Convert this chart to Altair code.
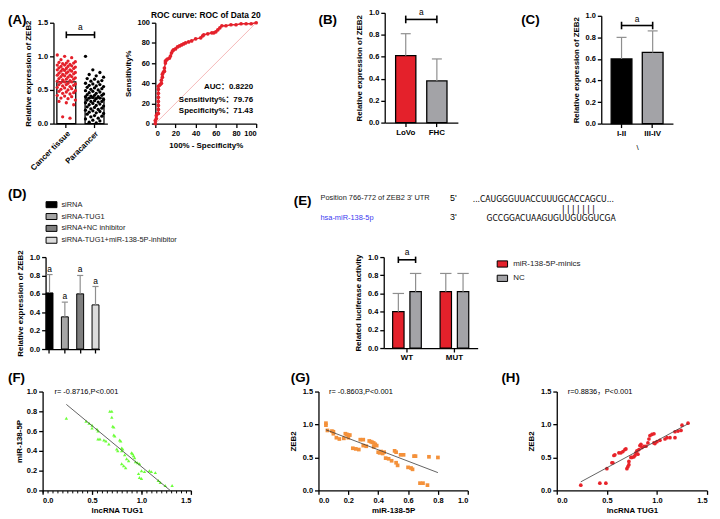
import altair as alt
import pandas as pd

# ---------------- data ----------------
a_cats = ["Cancer tissue", "Paracancer"]
a_means = [0.62, 0.38]
a_cancer = [1.02, 1.00, 0.98, 0.95, 0.93, 0.92, 0.91, 0.90, 0.90, 0.89, 0.88, 0.87, 0.87, 0.86,
            0.85, 0.85, 0.84, 0.83, 0.82, 0.82, 0.81, 0.80, 0.80, 0.79, 0.78, 0.78, 0.77, 0.76,
            0.75, 0.75, 0.74, 0.73, 0.72, 0.72, 0.71, 0.70, 0.70, 0.69, 0.68, 0.67, 0.66, 0.66,
            0.65, 0.64, 0.63, 0.62, 0.62, 0.61, 0.60, 0.59, 0.58, 0.58, 0.57, 0.56, 0.55, 0.54,
            0.53, 0.52, 0.51, 0.50, 0.49, 0.48, 0.47, 0.46, 0.45, 0.44, 0.42, 0.41, 0.40, 0.38,
            0.37, 0.35, 0.33, 0.31, 0.28, 0.10, 0.08]
a_para = [1.00, 0.80, 0.76, 0.73, 0.71, 0.69, 0.67, 0.66, 0.64, 0.63, 0.62, 0.60, 0.59, 0.58,
          0.57, 0.56, 0.55, 0.54, 0.53, 0.52, 0.51, 0.50, 0.49, 0.48, 0.47, 0.46, 0.45, 0.44,
          0.43, 0.42, 0.42, 0.41, 0.40, 0.40, 0.39, 0.38, 0.38, 0.37, 0.36, 0.35, 0.34, 0.33,
          0.33, 0.32, 0.31, 0.30, 0.29, 0.28, 0.27, 0.26, 0.25, 0.24, 0.23, 0.22, 0.21, 0.20,
          0.19, 0.18, 0.17, 0.16, 0.15, 0.14, 0.12, 0.11, 0.10, 0.08, 0.07, 0.05, 0.04, 0.02, 0.01]

roc_fpr = [0, 0, 1, 1, 2, 3, 3, 3, 3, 3, 3, 3, 3, 4, 5, 6, 6, 7, 7, 8, 9, 9, 10, 10, 11, 12, 14, 15,
           16, 17, 18, 20, 22, 24, 26, 28, 30, 33, 36, 40, 45, 47, 48, 52, 56, 58, 60, 62, 64, 66,
           70, 75, 80, 85, 90, 95, 100]
roc_tpr = [0, 3, 5, 8, 10, 10, 14, 18, 22, 26, 30, 34, 37, 38, 39, 40, 43, 46, 49, 51, 52, 55, 60,
           62, 63, 64, 65, 67, 70, 72, 73, 74, 76, 77, 78, 79, 80, 81, 82, 84, 85, 87, 88, 89, 90,
           90, 91, 93, 95, 97, 97, 98, 98, 99, 99, 99, 100]
roc_diag = [0, 100]
roc_text = ["AUC：0.8220", "Sensitivity%：79.76", "Specificity%：71.43"]
roc_text_y = [36, 23.5, 12.7]

b_cats = ["LoVo", "FHC"]
b_mean = [0.61, 0.38]
b_sd = [0.20, 0.20]

c_cats = ["I-II", "III-IV"]
c_mean = [0.60, 0.66]
c_sd = [0.20, 0.20]

d_cats = ["siRNA", "siRNA-TUG1", "siRNA+NC inhibitor", "siRNA-TUG1+miR-138-5P-inhibitor"]
d_mean = [0.61, 0.35, 0.60, 0.48]
d_sd = [0.20, 0.16, 0.20, 0.20]

e_groups = ["WT", "MUT"]
e_series = ["miR-138-5P-minics", "NC"]
e_mimic = [0.40, 0.62]
e_nc = [0.62, 0.62]
e_sd = [0.20, 0.20, 0.20, 0.20]
e_seq_label = "Position 766-772 of ZEB2 3' UTR"
e_mir_label = "hsa-miR-138-5p"
e_seq_top = "...CAUGGGUUACCUUUGCACCAGCU..."
e_pairs = "|||||||"
e_seq_bot = "GCCGGACUAAGUGUUGUGGUCGA"

f_pts = [(0.24, 0.73), (0.44, 0.70), (0.47, 0.68), (0.50, 0.66), (0.50, 0.63), (0.55, 0.62),
         (0.56, 0.60), (0.56, 0.52), (0.58, 0.52), (0.62, 0.51), (0.64, 0.50), (0.67, 0.47),
         (0.68, 0.80), (0.70, 0.80), (0.70, 0.74), (0.71, 0.65), (0.72, 0.64), (0.72, 0.56),
         (0.73, 0.55), (0.75, 0.42), (0.76, 0.40), (0.78, 0.51), (0.79, 0.50), (0.80, 0.43),
         (0.81, 0.42), (0.80, 0.40), (0.80, 0.27), (0.82, 0.25), (0.84, 0.23), (0.83, 0.36),
         (0.85, 0.32), (0.87, 0.30), (0.90, 0.38), (0.91, 0.37), (0.92, 0.35), (0.93, 0.33),
         (0.94, 0.29), (0.96, 0.28), (0.98, 0.27), (0.97, 0.17), (0.98, 0.13), (1.00, 0.12),
         (1.00, 0.20), (1.03, 0.19), (1.08, 0.20), (1.10, 0.19), (1.14, 0.18), (1.17, 0.10),
         (1.19, 0.08), (1.24, 0.05), (1.31, 0.05)]
f_fit = [(0.24, 0.87), (1.29, 0.0)]
f_note = "r= -0.8716,P<0.001"

g_pts = [(0.05, 1.02), (0.05, 0.99), (0.06, 0.91), (0.09, 0.90), (0.10, 0.89), (0.10, 0.86),
         (0.12, 0.80), (0.14, 0.78), (0.17, 0.79), (0.18, 0.86), (0.19, 0.85), (0.20, 0.84),
         (0.21, 0.84), (0.20, 0.80), (0.23, 0.64), (0.25, 0.63), (0.27, 0.62), (0.28, 0.77),
         (0.30, 0.77), (0.30, 0.68), (0.32, 0.67), (0.34, 0.75), (0.35, 0.74), (0.36, 0.73),
         (0.37, 0.72), (0.37, 0.66), (0.38, 0.70), (0.39, 0.68), (0.40, 0.58), (0.41, 0.57),
         (0.42, 0.59), (0.43, 0.56), (0.44, 0.58), (0.45, 0.49), (0.47, 0.48), (0.49, 0.45),
         (0.51, 0.60), (0.52, 0.58), (0.52, 0.42), (0.53, 0.38), (0.55, 0.54), (0.57, 0.54),
         (0.60, 0.35), (0.62, 0.34), (0.63, 0.32), (0.64, 0.52), (0.65, 0.52), (0.68, 0.11),
         (0.70, 0.11), (0.73, 0.08), (0.74, 0.51), (0.80, 0.50)]
g_fit = [(0.05, 0.92), (0.80, 0.27)]
g_note = "r= -0.8603,P<0.001"

h_pts = [(0.24, 0.08), (0.43, 0.11), (0.49, 0.11), (0.50, 0.33), (0.55, 0.42), (0.56, 0.42),
         (0.57, 0.53), (0.58, 0.54), (0.62, 0.57), (0.64, 0.57), (0.66, 0.59), (0.68, 0.62),
         (0.69, 0.63), (0.70, 0.33), (0.71, 0.36), (0.72, 0.39), (0.72, 0.44), (0.74, 0.50),
         (0.75, 0.50), (0.77, 0.51), (0.78, 0.53), (0.79, 0.57), (0.80, 0.60), (0.81, 0.55),
         (0.82, 0.62), (0.83, 0.68), (0.84, 0.70), (0.85, 0.65), (0.87, 0.67), (0.89, 0.67),
         (0.91, 0.72), (0.92, 0.78), (0.93, 0.83), (0.95, 0.85), (0.97, 0.86), (0.97, 0.72),
         (0.98, 0.71), (1.00, 0.74), (1.03, 0.76), (1.08, 0.78), (1.10, 0.80), (1.13, 0.80),
         (1.18, 0.80), (1.18, 0.89), (1.21, 0.90), (1.24, 0.91), (1.25, 0.99), (1.31, 1.02)]
h_fit = [(0.24, 0.13), (1.31, 1.01)]
h_note = "r=0.8836，P<0.001"

# ---------------- style / layout helpers ----------------
W, H = 712, 511
FONT = "Liberation Sans, Arial, Noto Sans CJK SC, sans-serif"
NARROW = "Liberation Sans Narrow, DejaVu Sans Condensed, Arial Narrow, sans-serif"
MONO = "DejaVu Sans Mono, monospace"
RED = "#e4212b"
GRAY = "#a3a3a7"
ERR = "#8e8e8e"


def X(p):
    return p - 8


def Y(p):
    return p - 8


AX = dict(grid=False, domainColor="black", domainWidth=1.3, tickColor="black", tickWidth=1.3,
          tickSize=4, labelFont=FONT, labelFontSize=7.5, labelFontWeight="bold",
          labelColor="black", labelPadding=2, labelAngle=0, titleFont=FONT, titleFontSize=8,
          titleFontWeight="bold", titleColor="black")


def xaxis(py, **kw):
    d = dict(AX, orient="bottom", offset=Y(py) - H)
    d.update(kw)
    return alt.Axis(**d)


def yaxis(px, **kw):
    d = dict(AX, orient="left", offset=-X(px))
    d.update(kw)
    return alt.Axis(**d)


def lin(dom, p0, p1):
    return alt.Scale(domain=dom, range=[p0 - 8, p1 - 8], nice=False, zero=False)


def bandlin(cats, r0, r1, pi, po):
    n = len(cats)
    a = -(po + (1 - pi) / 2)
    b = a + (n - pi + 2 * po)
    return (alt.Scale(domain=cats, range=[r0 - 8, r1 - 8], paddingInner=pi, paddingOuter=po),
            alt.Scale(domain=[a, b], range=[r0 - 8, r1 - 8], nice=False, zero=False))


ONE = pd.DataFrame({"d": [0]})


def label(text, px, py, size=14, weight="bold", align="left", font=FONT, color="black"):
    return alt.Chart(ONE).mark_text(text=text, font=font, fontSize=size, fontWeight=weight,
                                    align=align, baseline="middle", color=color).encode(
        x=alt.value(X(px)), y=alt.value(Y(py)))


def errbars(idx, mean, sd, XL, YS, cap):
    df = pd.DataFrame({"i": idx, "m": mean, "u": [m + s for m, s in zip(mean, sd)]})
    df["l"] = df["i"] - cap
    df["r"] = df["i"] + cap
    stem = alt.Chart(df).mark_rule(color=ERR, strokeWidth=1.2).encode(
        x=alt.X("i:Q", scale=XL, axis=None), y=alt.Y("m:Q", scale=YS, axis=None), y2="u:Q")
    capm = alt.Chart(df).mark_rule(color=ERR, strokeWidth=1.2).encode(
        x=alt.X("l:Q", scale=XL, axis=None), x2="r:Q", y=alt.Y("u:Q", scale=YS, axis=None))
    return [stem, capm]


def bracket(i0, i1, yb, ya, XL, YS, d):
    df1 = pd.DataFrame({"x0": [i0], "x1": [i1], "y": [yb]})
    df2 = pd.DataFrame({"x": [i0, i1], "y0": [yb - d] * 2, "y1": [yb + d] * 2})
    df3 = pd.DataFrame({"x": [(i0 + i1) / 2], "y": [ya]})
    return [
        alt.Chart(df1).mark_rule(color="black", strokeWidth=1.6).encode(
            x=alt.X("x0:Q", scale=XL, axis=None), x2="x1:Q", y=alt.Y("y:Q", scale=YS, axis=None)),
        alt.Chart(df2).mark_rule(color="black", strokeWidth=1.6).encode(
            x=alt.X("x:Q", scale=XL, axis=None), y=alt.Y("y0:Q", scale=YS, axis=None), y2="y1:Q"),
        alt.Chart(df3).mark_text(text="a", font=FONT, fontSize=8.5, color="black",
                                 baseline="middle").encode(
            x=alt.X("x:Q", scale=XL, axis=None), y=alt.Y("y:Q", scale=YS, axis=None)),
    ]


L = []

# ---------------- panel labels ----------------
for t, px, py in [("(A)", 8, 17), ("(B)", 322, 17), ("(C)", 527, 17), ("(D)", 8, 193),
                  ("(E)", 297, 200), ("(F)", 8, 379), ("(G)", 294, 379), ("(H)", 507, 379)]:
    L.append(label(t, px, py, size=13.5))

# ---------------- A: strip plot ----------------
A_XB, A_XL = bandlin(a_cats, 54, 108.5, 0.33, 0.12)
A_Y = lin([0, 1.5], 122, 20)
L.append(alt.Chart(pd.DataFrame({"cat": a_cats, "m": a_means})).mark_bar(
    fill="white", stroke="black", strokeWidth=1.3).encode(
    x=alt.X("cat:N", scale=A_XB, sort=a_cats,
            axis=xaxis(122, title=None, labelAngle=-45, labelFontSize=8)),
    y=alt.Y("m:Q", scale=A_Y, axis=yaxis(54, values=[0, 0.5, 1.0, 1.5], format=".1f",
                                          title="Relative expression of ZEB2", titlePadding=5))))
JIT = [-0.32, -0.06, 0.19, -0.19, 0.06, 0.32, -0.26, 0.0, 0.26, -0.13, 0.13]
ptsA = pd.DataFrame({
    "p": [JIT[i % 11] for i in range(len(a_cancer))] + [1 + JIT[i % 11] for i in range(len(a_para))],
    "v": a_cancer + a_para,
    "g": ["c"] * len(a_cancer) + ["p"] * len(a_para)})
L.append(alt.Chart(ptsA).mark_circle(size=11, opacity=1).encode(
    x=alt.X("p:Q", scale=A_XL, axis=None), y=alt.Y("v:Q", scale=A_Y, axis=None),
    color=alt.Color("g:N", scale=alt.Scale(domain=["c", "p"], range=[RED, "black"]), legend=None)))
L += bracket(0, 1, 1.32, 1.43, A_XL, A_Y, 0.05)

# ---------------- ROC ----------------
R_X = lin([0, 100], 157, 259)
R_Y = lin([0, 100], 122, 20)
L.append(alt.Chart(pd.DataFrame({"x": roc_diag, "y": roc_diag})).mark_line(
    color="#f19a9a", strokeWidth=0.7).encode(
    x=alt.X("x:Q", scale=R_X, axis=xaxis(122, values=[0, 20, 40, 60, 80, 100],
                                         title="100% - Specificity%", titlePadding=5)),
    y=alt.Y("y:Q", scale=R_Y, axis=yaxis(157, values=[0, 20, 40, 60, 80, 100],
                                         title="Sensitivity%", titlePadding=5))))
roc = pd.DataFrame({"x": roc_fpr, "y": roc_tpr, "o": list(range(len(roc_fpr)))})
L.append(alt.Chart(roc).mark_line(color=RED, strokeWidth=1.5).encode(
    x=alt.X("x:Q", scale=R_X, axis=None), y=alt.Y("y:Q", scale=R_Y, axis=None), order="o:Q"))
L.append(alt.Chart(roc).mark_circle(color=RED, size=14, opacity=1).encode(
    x=alt.X("x:Q", scale=R_X, axis=None), y=alt.Y("y:Q", scale=R_Y, axis=None)))
L.append(alt.Chart(pd.DataFrame({"t": roc_text, "x": [97] * 3, "y": roc_text_y})).mark_text(
    font=FONT, fontSize=8, fontWeight="bold", align="right", baseline="middle", color="black").encode(
    x=alt.X("x:Q", scale=R_X, axis=None), y=alt.Y("y:Q", scale=R_Y, axis=None), text="t:N"))
L.append(label("ROC curve: ROC of Data 20", 208, 12, size=8.5, align="center"))

# ---------------- B ----------------
B_XB, B_XL = bandlin(b_cats, 389, 463, 0.35, 0.35)
B_Y = lin([0, 1], 121, 10)
L.append(alt.Chart(pd.DataFrame({"cat": b_cats, "m": b_mean})).mark_bar(
    stroke="black", strokeWidth=1.3).encode(
    x=alt.X("cat:N", scale=B_XB, sort=b_cats, axis=xaxis(121, title=None, labelFontSize=8)),
    y=alt.Y("m:Q", scale=B_Y, axis=yaxis(389, values=[0, 0.2, 0.4, 0.6, 0.8, 1.0], format=".1f",
                                          title="Relative expression of ZEB2", titlePadding=5)),
    color=alt.Color("cat:N", scale=alt.Scale(domain=b_cats, range=[RED, GRAY]), legend=None)))
L += errbars([0, 1], b_mean, b_sd, B_XL, B_Y, 0.16)
L += bracket(0, 1, 0.94, 1.01, B_XL, B_Y, 0.035)

# ---------------- C ----------------
C_XB, C_XL = bandlin(c_cats, 608, 680.5, 0.333, 0.318)
C_Y = lin([0, 1], 122, 13)
L.append(alt.Chart(pd.DataFrame({"cat": c_cats, "m": c_mean})).mark_bar(
    stroke="black", strokeWidth=1.3).encode(
    x=alt.X("cat:N", scale=C_XB, sort=c_cats,
            axis=xaxis(122, title="\\", titlePadding=6, titleFontWeight="normal", labelFontSize=8)),
    y=alt.Y("m:Q", scale=C_Y, axis=yaxis(608, values=[0, 0.2, 0.4, 0.6, 0.8, 1.0], format=".1f",
                                          title="Relative expression of ZEB2", titlePadding=5)),
    color=alt.Color("cat:N", scale=alt.Scale(domain=c_cats, range=["black", GRAY]), legend=None)))
L += errbars([0, 1], c_mean, c_sd, C_XL, C_Y, 0.16)
L += bracket(0, 1, 0.91, 0.97, C_XL, C_Y, 0.035)

# ---------------- D ----------------
D_XB, D_XL = bandlin(d_cats, 46, 100.5, 0.55, 0.033)
D_Y = lin([0, 1], 350, 257)
d_colors = ["#000000", "#a6a6a6", "#7f7f7f", "#dcdcdc"]
L.append(alt.Chart(pd.DataFrame({"cat": d_cats, "m": d_mean})).mark_bar(
    stroke="black", strokeWidth=1).encode(
    x=alt.X("cat:N", scale=D_XB, sort=d_cats, axis=xaxis(350, title=None, labels=False)),
    y=alt.Y("m:Q", scale=D_Y, axis=yaxis(46, values=[0, 0.2, 0.4, 0.6, 0.8, 1.0], format=".1f",
                                          title="Relative expression of ZEB2", titlePadding=5)),
    color=alt.Color("cat:N", scale=alt.Scale(domain=d_cats, range=d_colors),
                    legend=alt.Legend(orient="none", legendX=X(46), legendY=Y(198), title=None,
                                      symbolType="M-1,-0.55H1V0.55H-1Z", symbolSize=121,
                                      symbolStrokeColor="black", symbolStrokeWidth=1,
                                      labelFont=FONT, labelFontSize=7.5, labelColor="#222",
                                      labelOffset=4, rowPadding=-1.5, padding=0))))
L += errbars([0, 1, 2, 3], d_mean, d_sd, D_XL, D_Y, 0.2)
L.append(alt.Chart(pd.DataFrame({"i": [0, 1, 2, 3],
                                 "u": [m + s for m, s in zip(d_mean, d_sd)]})).mark_text(
    text="a", font=FONT, fontSize=8.5, baseline="bottom", color="black", dy=-1).encode(
    x=alt.X("i:Q", scale=D_XL, axis=None), y=alt.Y("u:Q", scale=D_Y, axis=None)))

# ---------------- E ----------------
L.append(label(e_seq_label, 324, 197, size=7.5, weight="normal", color="#1a1a1a"))
L.append(label(e_mir_label, 324, 217, size=7.5, weight="normal", color="#3b3bf0"))
L.append(label("5'", 455, 197, size=9, weight="normal"))
L.append(label("3'", 455, 217, size=9, weight="normal"))
L.append(label(e_seq_top, 478, 198, size=8.6, weight="normal", font=NARROW))
L.append(label(e_pairs, 567, 208, size=8.5, weight="normal", font=MONO))
L.append(label(e_seq_bot, 492, 218, size=8.6, weight="normal", font=NARROW))

E_PI, E_Q = 0.396, 0.34
E_XB, E_XL = bandlin(e_groups, 388, 483, E_PI, 0.188)
E_Y = lin([0, 1], 349, 257)
bw = 1 - E_PI
sub = bw / (2 - E_Q)
off = [(1 - E_Q) * sub / 2 + j * sub - bw / 2 for j in range(2)]
dfE = pd.DataFrame({"g": ["WT", "WT", "MUT", "MUT"],
                    "s": [e_series[0], e_series[1], e_series[0], e_series[1]],
                    "m": [e_mimic[0], e_nc[0], e_mimic[1], e_nc[1]],
                    "i": [0 + off[0], 0 + off[1], 1 + off[0], 1 + off[1]]})
L.append(alt.Chart(dfE).mark_bar(stroke="black", strokeWidth=1.2).encode(
    x=alt.X("g:N", scale=E_XB, sort=e_groups, axis=xaxis(349, title=None, labelFontSize=8)),
    xOffset=alt.XOffset("s:N", scale=alt.Scale(domain=e_series, paddingInner=E_Q, paddingOuter=0)),
    y=alt.Y("m:Q", scale=E_Y, axis=yaxis(388, values=[0, 0.2, 0.4, 0.6, 0.8, 1.0], format=".1f",
                                          title="Related luciferase activity", titlePadding=5)),
    color=alt.Color("s:N", scale=alt.Scale(domain=e_series, range=[RED, GRAY]),
                    legend=alt.Legend(orient="none", legendX=X(502), legendY=Y(258), title=None,
                                      symbolType="M-1,-0.6H1V0.6H-1Z", symbolSize=110,
                                      symbolStrokeColor="black", symbolStrokeWidth=1,
                                      labelFont=FONT, labelFontSize=8, labelColor="#222",
                                      labelOffset=5, rowPadding=2.5, padding=0))))
L += errbars(list(dfE["i"]), list(dfE["m"]), e_sd, E_XL, E_Y, 0.12)
L += bracket(off[0], off[1], 0.97, 1.06, E_XL, E_Y, 0.035)

# ---------------- F / G / H scatter ----------------
def scatter(pts, fit, note, XS, YS, ax_y, ax_x, xvals, yvals, xt, yt, ytp, shape, color, size, nx, ny):
    out = []
    df = pd.DataFrame({"x": [p[0] for p in pts], "y": [p[1] for p in pts]})
    out.append(alt.Chart(df).mark_point(shape=shape, filled=True, color=color, size=size,
                                        opacity=1).encode(
        x=alt.X("x:Q", scale=XS, axis=xaxis(ax_y, values=xvals, format=".1f", title=xt,
                                            titlePadding=3)),
        y=alt.Y("y:Q", scale=YS, axis=yaxis(ax_x, values=yvals, format=".1f", title=yt,
                                            titlePadding=ytp))))
    dfl = pd.DataFrame({"x0": [fit[0][0]], "y0": [fit[0][1]], "x1": [fit[1][0]], "y1": [fit[1][1]]})
    out.append(alt.Chart(dfl).mark_rule(color="#3a3a3a", strokeWidth=0.8).encode(
        x=alt.X("x0:Q", scale=XS, axis=None), y=alt.Y("y0:Q", scale=YS, axis=None),
        x2="x1:Q", y2="y1:Q"))
    out.append(alt.Chart(pd.DataFrame({"x": [nx], "y": [ny], "t": [note]})).mark_text(
        font=FONT, fontSize=7.5, align="left", baseline="middle", color="black").encode(
        x=alt.X("x:Q", scale=XS, axis=None), y=alt.Y("y:Q", scale=YS, axis=None), text="t:N"))
    return out


F_X = lin([0, 1.5], 43, 193)
F_Y = lin([0, 1], 493, 393)
L += scatter(f_pts, f_fit, f_note, F_X, F_Y, 493, 43, [0, 0.5, 1.0, 1.5],
             [0, 0.2, 0.4, 0.6, 0.8, 1.0], "lncRNA TUG1", "miR-138-5P", 3,
             "triangle-up", "#6dff3a", 12, 0.12, 1.0)
# minor ticks on F x axis
L.append(alt.Chart(pd.DataFrame({"x": [0.0], "y": [0.0]})).mark_point(opacity=0).encode(
    x=alt.X("x:Q", scale=F_X, axis=xaxis(493, values=[i * 0.05 for i in range(31)], labels=False,
                                         domain=False, tickSize=2.5, tickWidth=1, title=None)),
    y=alt.Y("y:Q", scale=F_Y, axis=None)))

G_X = lin([0, 1], 322, 473)
G_Y = lin([0, 1.5], 493, 393)
L += scatter(g_pts, g_fit, g_note, G_X, G_Y, 493, 322, [0, 0.2, 0.4, 0.6, 0.8, 1.0],
             [0, 0.5, 1.0, 1.5], "miR-138-5P", "ZEB2", 5, "square", "#f4913a", 14, 0.07, 1.5)

H_X = lin([0, 1.5], 563, 715)
H_Y = lin([0, 1.5], 493, 393)
L += scatter(h_pts, h_fit, h_note, H_X, H_Y, 493, 563, [0, 0.5, 1.0, 1.5],
             [0, 0.5, 1.0, 1.5], "lncRNA TUG1", "ZEB2", 5, "circle", "#e8232a", 14, 0.11, 1.5)

chart = alt.layer(*L).resolve_scale(
    x="independent", y="independent", color="independent", xOffset="independent"
).properties(
    width=W, height=H, autosize=alt.AutoSizeParams(type="none"), padding=0
).configure_view(stroke=None)

chart.save("out.html", embed_options={"renderer": "svg", "actions": False})
